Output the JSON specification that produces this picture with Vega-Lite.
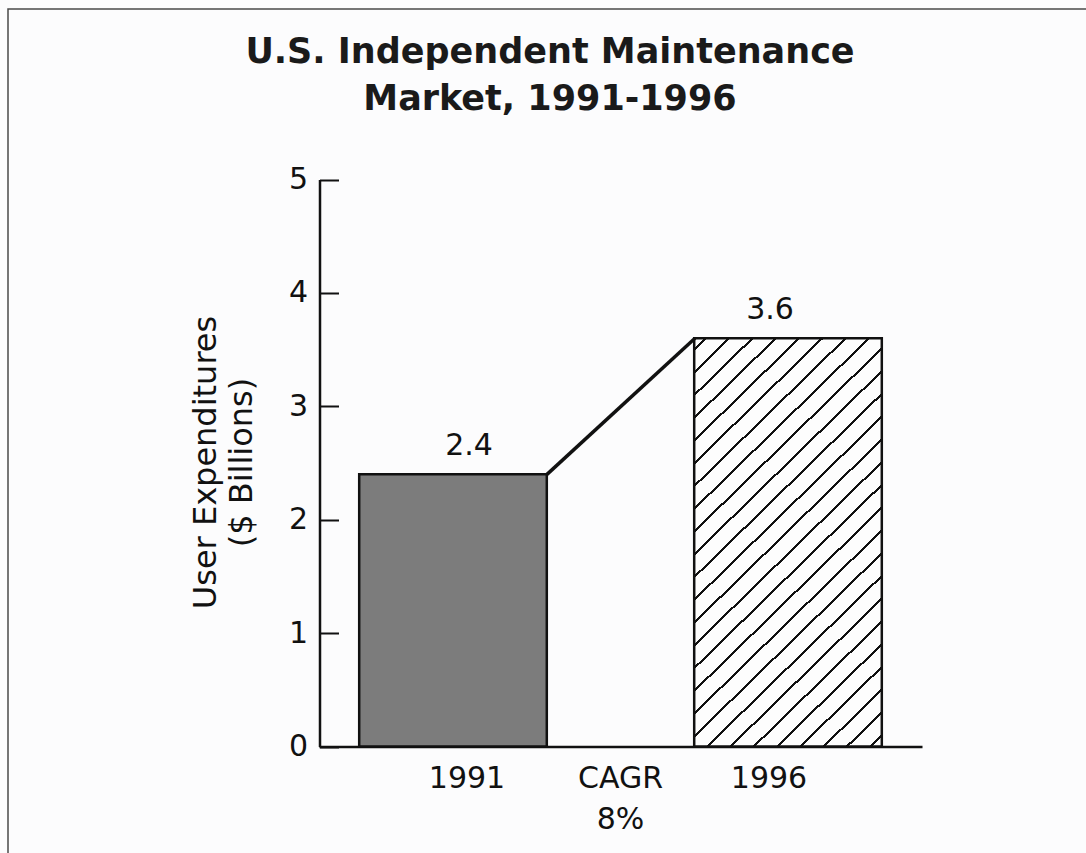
{
  "$schema": "https://vega.github.io/schema/vega-lite/v6.json",
  "width": 1080,
  "height": 846,
  "autosize": {"type": "none"},
  "padding": {"left": 8, "top": 9, "right": 0, "bottom": 0},
  "background": "#fcfcfd",
  "config": {
    "view": {"stroke": "#4a4a4a", "strokeWidth": 1.5},
    "font": "DejaVu Sans",
    "axis": {"labelFont": "DejaVu Sans", "titleFont": "DejaVu Sans", "grid": false}
  },
  "title": {
    "text": ["U.S. Independent Maintenance", "Market, 1991-1996"],
    "font": "DejaVu Sans",
    "fontSize": 35,
    "fontWeight": "bold",
    "color": "#1a1a1a",
    "lineHeight": 47,
    "anchor": "middle",
    "frame": "group",
    "offset": -108,
    "dx": 2
  },
  "data": {"values": [
    {"year": "1991", "value": 2.4},
    {"year": "1996", "value": 3.6}
  ]},
  "encoding": {
    "x": {
      "field": "year",
      "type": "nominal",
      "title": null,
      "scale": {"domain": ["1991", "CAGR", "1996"], "range": [311, 914], "paddingInner": 0, "paddingOuter": 0.3},
      "axis": {
        "orient": "bottom",
        "offset": -108.5,
        "ticks": false,
        "domainColor": "#111111",
        "domainWidth": 2.5,
        "labelFontSize": 30,
        "labelColor": "#111111",
        "labelPadding": 17,
        "labelAngle": 0,
        "labelBaseline": "top",
        "labelLineHeight": 41,
        "labelExpr": "datum.value === 'CAGR' ? ['CAGR', '8%'] : datum.value",
        "labelOffset": {"condition": [{"test": "datum.value === '1991'", "value": 14}, {"test": "datum.value === '1996'", "value": -19}], "value": 0}
      }
    },
    "y": {
      "field": "value",
      "type": "quantitative",
      "title": ["User Expenditures", "($ Billions)"],
      "scale": {"domain": [0, 5], "range": [737.5, 170.5], "nice": false},
      "axis": {
        "values": [0, 1, 2, 3, 4, 5],
        "offset": -311.5,
        "tickSize": -19,
        "tickWidth": 2,
        "tickColor": "#111111",
        "domainColor": "#111111",
        "domainWidth": 2.5,
        "labelFontSize": 30,
        "labelColor": "#111111",
        "labelPadding": 31,
        "titleFontSize": 32,
        "titleFontWeight": "normal",
        "titleColor": "#111111",
        "titleAngle": -90,
        "titleX": -114,
        "titleY": 453,
        "titleAlign": "center",
        "titleBaseline": "middle",
        "titleLineHeight": 36
      }
    }
  },
  "layer": [
    {
      "mark": {"type": "bar", "width": {"band": 1.12}, "stroke": "#111111", "strokeWidth": 2.5},
      "encoding": {
        "fill": {
          "condition": {"test": "datum.year === '1991'", "value": "#7c7c7c"},
          "value": {
            "gradient": "linear",
            "x1": 0, "y1": 0, "x2": 0.5415, "y2": 1.206,
            "stops": [
              {"offset": 0, "color": "#fdfdfd"},
              {"offset": 0.0167, "color": "#fdfdfd"}, {"offset": 0.0167, "color": "#111111"}, {"offset": 0.0217, "color": "#111111"}, {"offset": 0.0217, "color": "#fdfdfd"},
              {"offset": 0.0552, "color": "#fdfdfd"}, {"offset": 0.0552, "color": "#111111"}, {"offset": 0.0602, "color": "#111111"}, {"offset": 0.0602, "color": "#fdfdfd"},
              {"offset": 0.0937, "color": "#fdfdfd"}, {"offset": 0.0937, "color": "#111111"}, {"offset": 0.0987, "color": "#111111"}, {"offset": 0.0987, "color": "#fdfdfd"},
              {"offset": 0.1321, "color": "#fdfdfd"}, {"offset": 0.1321, "color": "#111111"}, {"offset": 0.1371, "color": "#111111"}, {"offset": 0.1371, "color": "#fdfdfd"},
              {"offset": 0.1706, "color": "#fdfdfd"}, {"offset": 0.1706, "color": "#111111"}, {"offset": 0.1756, "color": "#111111"}, {"offset": 0.1756, "color": "#fdfdfd"},
              {"offset": 0.2090, "color": "#fdfdfd"}, {"offset": 0.2090, "color": "#111111"}, {"offset": 0.2140, "color": "#111111"}, {"offset": 0.2140, "color": "#fdfdfd"},
              {"offset": 0.2475, "color": "#fdfdfd"}, {"offset": 0.2475, "color": "#111111"}, {"offset": 0.2525, "color": "#111111"}, {"offset": 0.2525, "color": "#fdfdfd"},
              {"offset": 0.2860, "color": "#fdfdfd"}, {"offset": 0.2860, "color": "#111111"}, {"offset": 0.2910, "color": "#111111"}, {"offset": 0.2910, "color": "#fdfdfd"},
              {"offset": 0.3244, "color": "#fdfdfd"}, {"offset": 0.3244, "color": "#111111"}, {"offset": 0.3294, "color": "#111111"}, {"offset": 0.3294, "color": "#fdfdfd"},
              {"offset": 0.3629, "color": "#fdfdfd"}, {"offset": 0.3629, "color": "#111111"}, {"offset": 0.3679, "color": "#111111"}, {"offset": 0.3679, "color": "#fdfdfd"},
              {"offset": 0.4013, "color": "#fdfdfd"}, {"offset": 0.4013, "color": "#111111"}, {"offset": 0.4063, "color": "#111111"}, {"offset": 0.4063, "color": "#fdfdfd"},
              {"offset": 0.4398, "color": "#fdfdfd"}, {"offset": 0.4398, "color": "#111111"}, {"offset": 0.4448, "color": "#111111"}, {"offset": 0.4448, "color": "#fdfdfd"},
              {"offset": 0.4783, "color": "#fdfdfd"}, {"offset": 0.4783, "color": "#111111"}, {"offset": 0.4833, "color": "#111111"}, {"offset": 0.4833, "color": "#fdfdfd"},
              {"offset": 0.5167, "color": "#fdfdfd"}, {"offset": 0.5167, "color": "#111111"}, {"offset": 0.5217, "color": "#111111"}, {"offset": 0.5217, "color": "#fdfdfd"},
              {"offset": 0.5552, "color": "#fdfdfd"}, {"offset": 0.5552, "color": "#111111"}, {"offset": 0.5602, "color": "#111111"}, {"offset": 0.5602, "color": "#fdfdfd"},
              {"offset": 0.5937, "color": "#fdfdfd"}, {"offset": 0.5937, "color": "#111111"}, {"offset": 0.5987, "color": "#111111"}, {"offset": 0.5987, "color": "#fdfdfd"},
              {"offset": 0.6321, "color": "#fdfdfd"}, {"offset": 0.6321, "color": "#111111"}, {"offset": 0.6371, "color": "#111111"}, {"offset": 0.6371, "color": "#fdfdfd"},
              {"offset": 0.6706, "color": "#fdfdfd"}, {"offset": 0.6706, "color": "#111111"}, {"offset": 0.6756, "color": "#111111"}, {"offset": 0.6756, "color": "#fdfdfd"},
              {"offset": 0.7090, "color": "#fdfdfd"}, {"offset": 0.7090, "color": "#111111"}, {"offset": 0.7140, "color": "#111111"}, {"offset": 0.7140, "color": "#fdfdfd"},
              {"offset": 0.7475, "color": "#fdfdfd"}, {"offset": 0.7475, "color": "#111111"}, {"offset": 0.7525, "color": "#111111"}, {"offset": 0.7525, "color": "#fdfdfd"},
              {"offset": 0.7860, "color": "#fdfdfd"}, {"offset": 0.7860, "color": "#111111"}, {"offset": 0.7910, "color": "#111111"}, {"offset": 0.7910, "color": "#fdfdfd"},
              {"offset": 0.8244, "color": "#fdfdfd"}, {"offset": 0.8244, "color": "#111111"}, {"offset": 0.8294, "color": "#111111"}, {"offset": 0.8294, "color": "#fdfdfd"},
              {"offset": 0.8629, "color": "#fdfdfd"}, {"offset": 0.8629, "color": "#111111"}, {"offset": 0.8679, "color": "#111111"}, {"offset": 0.8679, "color": "#fdfdfd"},
              {"offset": 0.9013, "color": "#fdfdfd"}, {"offset": 0.9013, "color": "#111111"}, {"offset": 0.9063, "color": "#111111"}, {"offset": 0.9063, "color": "#fdfdfd"},
              {"offset": 0.9398, "color": "#fdfdfd"}, {"offset": 0.9398, "color": "#111111"}, {"offset": 0.9448, "color": "#111111"}, {"offset": 0.9448, "color": "#fdfdfd"},
              {"offset": 0.9783, "color": "#fdfdfd"}, {"offset": 0.9783, "color": "#111111"}, {"offset": 0.9833, "color": "#111111"}, {"offset": 0.9833, "color": "#fdfdfd"},
              {"offset": 1, "color": "#fdfdfd"}
            ]
          }
        }
      }
    },
    {
      "mark": {"type": "text", "fontSize": 30, "font": "DejaVu Sans", "color": "#111111", "baseline": "alphabetic", "dy": -19, "dx": {"expr": "datum.year === '1991' ? 16 : -18"}},
      "encoding": {"text": {"field": "value", "type": "quantitative", "format": ".1f"}}
    },
    {
      "data": {"values": [{"from": "1991", "to": "1996", "start": 2.4, "end": 3.6}]},
      "mark": {"type": "rule", "color": "#111111", "strokeWidth": 3.5, "xOffset": 94, "x2Offset": -93},
      "encoding": {
        "x": {"field": "from", "type": "nominal"},
        "x2": {"field": "to"},
        "y": {"field": "start", "type": "quantitative"},
        "y2": {"field": "end"}
      }
    }
  ]
}
